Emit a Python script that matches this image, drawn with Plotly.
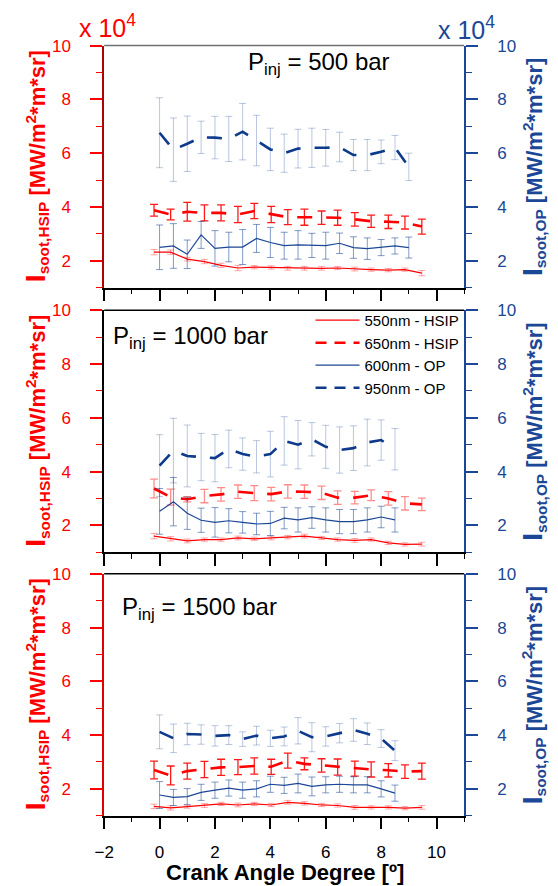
import plotly.graph_objects as go

FONT = "Arial, Liberation Sans, sans-serif"
RED = "#ff0000"
BLUE = "#1c4796"

# ---------------- data ----------------
x_hsip = [-0.2, 0.4, 1.0, 1.62, 2.22, 2.83, 3.42, 4.03, 4.63, 5.23, 5.85, 6.43, 7.05, 7.64, 8.26, 8.86, 9.47]
x_op_500 = [0.0, 0.5, 1.0, 1.5, 2.0, 2.5, 3.0, 3.5, 4.0, 4.5, 5.0, 5.5, 6.0, 6.5, 7.0, 7.5, 8.0, 8.5, 9.0]
x_op = [0.0, 0.5, 1.0, 1.5, 2.0, 2.5, 3.0, 3.5, 4.0, 4.5, 5.0, 5.5, 6.0, 6.5, 7.0, 7.5, 8.0, 8.5]

# P_inj = 500 bar
hsip550_500 = [2.32, 2.32, 2.06, 1.97, 1.83, 1.73, 1.76, 1.75, 1.72, 1.72, 1.72, 1.73, 1.69, 1.67, 1.65, 1.67, 1.54]
hsip550_500_err = [0.1, 0.08, 0.07, 0.08, 0.08, 0.1, 0.06, 0.06, 0.07, 0.07, 0.07, 0.06, 0.07, 0.06, 0.06, 0.06, 0.1]
hsip650_500 = [3.88, 3.72, 3.82, 3.78, 3.78, 3.72, 3.85, 3.72, 3.62, 3.62, 3.6, 3.6, 3.54, 3.47, 3.45, 3.42, 3.27]
hsip650_500_err = [0.22, 0.2, 0.35, 0.3, 0.3, 0.3, 0.28, 0.3, 0.28, 0.3, 0.25, 0.28, 0.25, 0.23, 0.25, 0.24, 0.28]
op600_500 = [2.5, 2.55, 2.24, 2.96, 2.46, 2.51, 2.51, 2.83, 2.68, 2.56, 2.59, 2.57, 2.56, 2.65, 2.49, 2.45, 2.49, 2.55, 2.49]
op600_500_err = [0.83, 0.83, 0.53, 0.5, 0.66, 0.55, 0.65, 0.52, 0.56, 0.5, 0.53, 0.45, 0.5, 0.38, 0.4, 0.4, 0.3, 0.3, 0.39]
op950_500 = [6.76, 6.13, 6.35, 6.59, 6.58, 6.53, 6.8, 6.47, 6.14, 6.0, 6.17, 6.2, 6.2, 6.23, 5.93, 5.93, 6.05, 6.21, 5.49]
op950_500_err = [1.3, 1.18, 1.03, 0.6, 0.79, 0.84, 1.05, 0.94, 0.79, 0.71, 0.72, 0.73, 0.68, 0.55, 0.58, 0.58, 0.44, 0.45, 0.51]

# P_inj = 1000 bar
hsip550_1000 = [1.6, 1.5, 1.42, 1.47, 1.47, 1.53, 1.5, 1.53, 1.56, 1.6, 1.53, 1.47, 1.44, 1.47, 1.35, 1.29, 1.3]
hsip550_1000_err = [0.1, 0.08, 0.07, 0.06, 0.06, 0.07, 0.06, 0.07, 0.06, 0.07, 0.06, 0.06, 0.07, 0.06, 0.06, 0.06, 0.07]
hsip650_1000 = [3.37, 3.05, 2.97, 3.09, 3.15, 3.25, 3.2, 3.16, 3.26, 3.25, 3.21, 3.03, 3.03, 3.12, 3.0, 2.82, 2.78]
hsip650_1000_err = [0.35, 0.3, 0.1, 0.25, 0.25, 0.25, 0.28, 0.25, 0.25, 0.25, 0.25, 0.25, 0.23, 0.2, 0.25, 0.25, 0.23]
op600_1000 = [2.52, 2.88, 2.45, 2.19, 2.11, 2.17, 2.11, 2.05, 2.07, 2.27, 2.2, 2.29, 2.2, 2.14, 2.14, 2.2, 2.31, 2.2]
op600_1000_err = [0.85, 0.9, 0.6, 0.45, 0.55, 0.45, 0.4, 0.4, 0.45, 0.4, 0.45, 0.4, 0.45, 0.45, 0.45, 0.45, 0.4, 0.45]
op950_1000 = [4.22, 4.78, 4.58, 4.54, 4.5, 4.84, 4.65, 4.55, 4.65, 5.14, 5.0, 5.2, 4.92, 4.8, 4.87, 5.08, 5.17, 4.83]
op950_1000_err = [1.15, 1.2, 1.15, 0.88, 0.88, 0.7, 0.6, 0.6, 0.85, 0.9, 0.9, 0.62, 0.8, 0.86, 0.83, 0.87, 0.75, 0.77]

# P_inj = 1500 bar
hsip550_1500 = [1.35, 1.29, 1.34, 1.38, 1.44, 1.4, 1.44, 1.4, 1.5, 1.46, 1.4, 1.38, 1.31, 1.31, 1.31, 1.28, 1.31]
hsip550_1500_err = [0.08, 0.08, 0.06, 0.07, 0.06, 0.07, 0.06, 0.06, 0.07, 0.06, 0.06, 0.06, 0.07, 0.06, 0.06, 0.06, 0.07]
hsip650_1500 = [2.7, 2.5, 2.66, 2.72, 2.8, 2.81, 2.85, 2.82, 3.05, 2.93, 2.87, 2.81, 2.75, 2.72, 2.69, 2.64, 2.66]
hsip650_1500_err = [0.33, 0.35, 0.3, 0.3, 0.3, 0.28, 0.3, 0.28, 0.28, 0.22, 0.25, 0.3, 0.28, 0.28, 0.25, 0.25, 0.3]
op600_1500 = [1.77, 1.68, 1.71, 1.87, 1.95, 2.03, 1.95, 2.0, 2.17, 2.13, 2.2, 2.09, 2.15, 2.17, 2.15, 2.15, 2.0, 1.84]
op600_1500_err = [0.5, 0.3, 0.3, 0.3, 0.3, 0.3, 0.3, 0.3, 0.3, 0.3, 0.35, 0.35, 0.3, 0.3, 0.3, 0.3, 0.3, 0.3]
op950_1500 = [4.12, 3.88, 4.04, 4.02, 3.97, 4.0, 3.85, 3.98, 3.88, 3.95, 4.16, 3.92, 3.95, 4.07, 4.19, 4.05, 3.87, 3.42]
op950_1500_err = [0.63, 0.53, 0.4, 0.36, 0.38, 0.35, 0.27, 0.35, 0.3, 0.35, 0.49, 0.54, 0.36, 0.36, 0.42, 0.4, 0.33, 0.37]

series_names = ["550nm - HSIP", "650nm - HSIP", "600nm - OP", "950nm - OP"]
y_range = [1, 10]
x_range = [-2, 11]

panels = [
    dict(p="500", xop=x_op_500, h550=hsip550_500, h550e=hsip550_500_err, h650=hsip650_500, h650e=hsip650_500_err,
         o600=op600_500, o600e=op600_500_err, o950=op950_500, o950e=op950_500_err),
    dict(p="1000", xop=x_op, h550=hsip550_1000, h550e=hsip550_1000_err, h650=hsip650_1000, h650e=hsip650_1000_err,
         o600=op600_1000, o600e=op600_1000_err, o950=op950_1000, o950e=op950_1000_err),
    dict(p="1500", xop=x_op, h550=hsip550_1500, h550e=hsip550_1500_err, h650=hsip650_1500, h650e=hsip650_1500_err,
         o600=op600_1500, o600e=op600_1500_err, o950=op950_1500, o950e=op950_1500_err),
]

# ---------------- layout geometry (pixels -> paper) ----------------
W, H = 558, 886
X_DOM = [95.9 / W, 462.5 / W]
panel_px = [(37.0, 281.5), (304.3, 548.8), (570.6, 815.0)]
left_line_colors = ["#b00000", "#000000", "#e00000"]
top_line_colors = ["#707070", "#000000", "#000000"]
h650_err_colors = ["rgba(255,0,0,0.9)", "rgba(255,0,0,0.45)", "rgba(255,0,0,0.9)"]
p_label_pos = [(240, 55), (103, 332), (112, 606)]

fig = go.Figure()
layout = dict(
    width=W, height=H, margin=dict(l=0, r=0, t=0, b=0),
    paper_bgcolor="white", plot_bgcolor="white",
    font=dict(family=FONT, size=16, color="black"),
    showlegend=True,
    legend=dict(x=306 / W, y=1 - 298 / H, xanchor="left", yanchor="top",
                bgcolor="rgba(0,0,0,0)", font=dict(family=FONT, size=15, color="black"),
                itemwidth=44, tracegroupgap=0),
)
annotations = []
shapes = []

DASH_DATA = "15px,14px"

for i, pan in enumerate(panels):
    xa = "x" if i == 0 else f"x{i+1}"
    yl = "y" if i == 0 else f"y{2*i+1}"
    yr = f"y{2*i+2}"
    top, bot = panel_px[i]
    ydom = [1 - bot / H, 1 - top / H]

    # HSIP (left axis)
    fig.add_trace(go.Scatter(x=x_hsip, y=pan["h550"], mode="lines", xaxis=xa, yaxis=yl, showlegend=False,
                             line=dict(color=RED, width=1.2),
                             error_y=dict(type="data", array=pan["h550e"], color="rgba(255,0,0,0.35)",
                                          thickness=1, width=3.5)))
    fig.add_trace(go.Scatter(x=x_hsip, y=pan["h650"], mode="lines", xaxis=xa, yaxis=yl, showlegend=False,
                             line=dict(color=RED, width=2.6, dash=DASH_DATA),
                             error_y=dict(type="data", array=pan["h650e"], color=h650_err_colors[i],
                                          thickness=1.3, width=4)))
    # OP (right axis)
    fig.add_trace(go.Scatter(x=pan["xop"], y=pan["o600"], mode="lines", xaxis=xa, yaxis=yr, showlegend=False,
                             line=dict(color=BLUE, width=1.2),
                             error_y=dict(type="data", array=pan["o600e"], color="rgba(28,71,150,0.55)",
                                          thickness=1, width=3.5)))
    fig.add_trace(go.Scatter(x=pan["xop"], y=pan["o950"], mode="lines", xaxis=xa, yaxis=yr, showlegend=False,
                             line=dict(color="#0d3a8c", width=2.6, dash=DASH_DATA),
                             error_y=dict(type="data", array=pan["o950e"], color="rgba(28,71,150,0.3)",
                                          thickness=1, width=3.5)))

    xkey = "xaxis" if i == 0 else f"xaxis{i+1}"
    ylkey = "yaxis" if i == 0 else f"yaxis{2*i+1}"
    yrkey = f"yaxis{2*i+2}"
    layout[xkey] = dict(domain=X_DOM, range=x_range, anchor=yl, showgrid=False, zeroline=False,
                        showline=True, linecolor="black", linewidth=1.5, mirror=False,
                        ticks="outside", ticklen=12, tickwidth=1.5, tickcolor="black",
                        tick0=0, dtick=2, showticklabels=(i == 2),
                        tickfont=dict(family=FONT, size=17, color="black"), ticklabelstandoff=8,
                        minor=dict(dtick=1, ticks="outside", ticklen=5, tickwidth=1.2, tickcolor="black"))
    layout[ylkey] = dict(domain=ydom, range=y_range, anchor=xa, showgrid=False, zeroline=False,
                         showline=True, linecolor=left_line_colors[i], linewidth=1.5,
                         ticks="outside", ticklen=12, tickwidth=1.5, tickcolor=RED,
                         tick0=0, dtick=2, tickfont=dict(family=FONT, size=17, color=RED),
                         ticklabelstandoff=16,
                         minor=dict(dtick=1, ticks="outside", ticklen=6, tickwidth=1.2, tickcolor=RED))
    layout[yrkey] = dict(domain=ydom, range=y_range, anchor=xa, overlaying=yl, side="right",
                         showgrid=False, zeroline=False,
                         showline=True, linecolor=BLUE, linewidth=1.5,
                         ticks="outside", ticklen=12, tickwidth=1.5, tickcolor=BLUE,
                         tick0=0, dtick=2, tickfont=dict(family=FONT, size=17, color=BLUE),
                         ticklabelstandoff=16,
                         minor=dict(dtick=1, ticks="outside", ticklen=6, tickwidth=1.2, tickcolor=BLUE))

    # top frame line of each panel
    shapes.append(dict(type="line", xref=f"{xa} domain", yref=f"{yl} domain", x0=0, x1=1, y0=1, y1=1,
                       line=dict(color=top_line_colors[i], width=1.5)))

    ymid = 1 - (top + bot) / 2 / H
    annotations.append(dict(text='<span style="font-size:28px">I</span><sub>soot,HSIP</sub> [MW/m<sup>2</sup>*m*sr]',
                            textangle=-90,
                            xref="paper", yref="paper", x=27 / W, y=ymid, xanchor="center", yanchor="middle",
                            showarrow=False, font=dict(family=FONT, size=22, color=RED, weight="bold")))
    annotations.append(dict(text='<span style="font-size:28px">I</span><sub>soot,OP</sub> [MW/m<sup>2</sup>*m*sr]',
                            textangle=-90,
                            xref="paper", yref="paper", x=533 / W, y=ymid, xanchor="center", yanchor="middle",
                            showarrow=False, font=dict(family=FONT, size=22, color=BLUE, weight="bold")))
    px_, py_ = p_label_pos[i]
    annotations.append(dict(text=f"P<sub>inj</sub> = {pan['p']} bar", xref="paper", yref="paper",
                            x=px_ / W, y=1 - py_ / H, xanchor="left", yanchor="middle", showarrow=False,
                            font=dict(family=FONT, size=24, color="black")))

# legend-only entries
legend_styles = [
    dict(color=RED, width=1.2),
    dict(color=RED, width=2.6, dash="11px,8px"),
    dict(color=BLUE, width=1.2),
    dict(color="#0d3a8c", width=2.6, dash="11px,8px"),
]
for name, st in zip(series_names, legend_styles):
    fig.add_trace(go.Scatter(x=[None], y=[None], mode="lines", name=name, line=st,
                             xaxis="x2", yaxis="y3", showlegend=True))

annotations.append(dict(text="x 10<sup>4</sup>", xref="paper", yref="paper", x=99 / W, y=1 - 17 / H,
                        xanchor="center", yanchor="middle", showarrow=False,
                        font=dict(family=FONT, size=25, color=RED)))
annotations.append(dict(text="x 10<sup>4</sup>", xref="paper", yref="paper", x=465 / W, y=1 - 19 / H,
                        xanchor="center", yanchor="middle", showarrow=False,
                        font=dict(family=FONT, size=25, color=BLUE)))
annotations.append(dict(text="Crank Angle Degree [º]", xref="paper", yref="paper", x=280 / W, y=1 - 872 / H,
                        xanchor="center", yanchor="middle", showarrow=False,
                        font=dict(family=FONT, size=22, color="black", weight="bold")))

layout["annotations"] = annotations
layout["shapes"] = shapes
fig.update_layout(**layout)
fig.write_html("out.html")
